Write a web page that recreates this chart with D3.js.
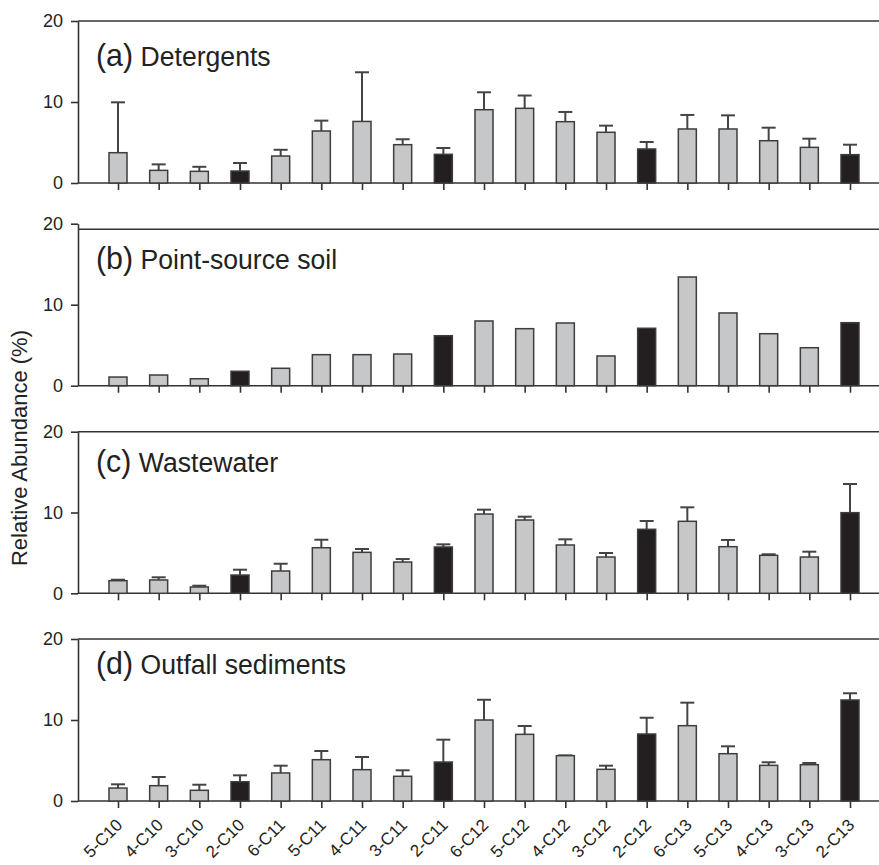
<!DOCTYPE html>
<html>
<head>
<meta charset="utf-8">
<script src="https://cdn.jsdelivr.net/npm/d3@7"></script>
<style>
  body { margin: 0; background: #fff; }
  svg { display: block; font-family: "Liberation Sans", Arial, Helvetica, sans-serif; }
  .axis path, .axis line { stroke: #333; stroke-width: 1.6px; }
</style>
</head>
<body>
<svg id="chart" width="879" height="865"></svg>
<script>
// categories along x
var categories = ["5-C10", "4-C10", "3-C10", "2-C10", "6-C11", "5-C11", "4-C11", "3-C11", "2-C11",
  "6-C12", "5-C12", "4-C12", "3-C12", "2-C12", "6-C13", "5-C13", "4-C13", "3-C13", "2-C13"];
var darkCategories = ["2-C10", "2-C11", "2-C12", "2-C13"];
var yTicks = [0, 10, 20];

// (a) Detergents
var detergents    = [3.74, 1.56, 1.44, 1.48, 3.33, 6.42, 7.60, 4.73, 3.54, 9.05, 9.22, 7.57, 6.26, 4.20, 6.67, 6.67, 5.22, 4.40, 3.50];
var detergentsErr = [6.22, 0.74, 0.56, 0.99, 0.77, 1.28, 6.07, 0.67, 0.78, 2.15, 1.58, 1.20, 0.82, 0.86, 1.73, 1.68, 1.61, 1.07, 1.23];
// (b) Point-source soil (no error bars)
var pointSoil     = [1.07, 1.32, 0.86, 1.78, 2.15, 3.83, 3.83, 3.91, 6.17, 7.99, 7.04, 7.74, 3.67, 7.09, 13.42, 8.98, 6.42, 4.69, 7.78];
// (c) Wastewater
var wastewater    = [1.56, 1.65, 0.78, 2.26, 2.76, 5.64, 5.07, 3.87, 5.73, 9.81, 9.07, 5.98, 4.49, 7.92, 8.91, 5.77, 4.70, 4.49, 9.98];
var wastewaterErr = [0.12, 0.33, 0.16, 0.66, 0.90, 0.99, 0.41, 0.37, 0.33, 0.54, 0.41, 0.70, 0.50, 1.03, 1.73, 0.83, 0.13, 0.66, 3.55];
// (d) Outfall sediments
var outfall       = [1.60, 1.89, 1.32, 2.38, 3.46, 5.10, 3.87, 3.05, 4.81, 10.00, 8.23, 5.60, 3.91, 8.27, 9.30, 5.84, 4.40, 4.48, 12.47];
var outfallErr    = [0.46, 1.07, 0.69, 0.79, 0.90, 1.07, 1.56, 0.74, 2.76, 2.50, 1.03, 0.03, 0.45, 2.01, 2.84, 0.91, 0.38, 0.21, 0.83];

// panel layout (pixels)
var panels = [
  { tag: "(a)", name: " Detergents",        values: detergents, err: detergentsErr, top: 21,    zero: 183,   frame: 21,    labelY: 66 },
  { tag: "(b)", name: " Point-source soil", values: pointSoil,  err: null,          top: 223.7, zero: 385.7, frame: 229.3, labelY: 269 },
  { tag: "(c)", name: " Wastewater",        values: wastewater, err: wastewaterErr, top: 431.7, zero: 593.3, frame: 431.7, labelY: 472 },
  { tag: "(d)", name: " Outfall sediments", values: outfall,    err: outfallErr,    top: 639,   zero: 801,   frame: 639,   labelY: 674 }
];

var axisX = 78, rightEdge = 879, barW = 18, capW = 14;
var svg = d3.select("#chart");

var x = d3.scalePoint()
  .domain(categories)
  .range([118, 850]);

function styleAxisText(sel, size) {
  sel.attr("font-size", null).attr("font-family", null);
  sel.selectAll("text")
    .style("font-size", size)
    .attr("fill", "#222");
}

panels.forEach(function (p, pi) {
  var y = d3.scaleLinear().domain([0, 20]).range([p.zero, p.top]);
  var g = svg.append("g");

  // y axis
  g.append("g")
    .attr("class", "axis")
    .attr("transform", "translate(" + axisX + ",0)")
    .call(d3.axisLeft(y).tickValues(yTicks).tickSize(7).tickSizeOuter(0).tickPadding(8))
    .call(styleAxisText, "18px");

  // frame top line
  g.append("line")
    .attr("x1", axisX).attr("x2", rightEdge)
    .attr("y1", p.frame).attr("y2", p.frame)
    .attr("stroke", "#333").attr("stroke-width", 1.6);

  // x axis ticks
  var xa = g.append("g")
    .attr("class", "axis")
    .attr("transform", "translate(0," + p.zero + ")")
    .call(d3.axisBottom(x).tickSize(7).tickSizeOuter(0))
    .call(styleAxisText, "17px");
  xa.select(".domain").remove();
  if (pi < panels.length - 1) {
    xa.selectAll("text").remove();
  } else {
    xa.selectAll("text")
      .attr("text-anchor", "end")
      .attr("dy", null)
      .attr("y", 0)
      .attr("transform", "translate(5,25) rotate(-45)");
  }
  // baseline
  g.append("line")
    .attr("x1", axisX).attr("x2", rightEdge)
    .attr("y1", p.zero).attr("y2", p.zero)
    .attr("stroke", "#333").attr("stroke-width", 1.6);

  // error bars
  if (p.err) {
    var eb = g.selectAll("g.err")
      .data(categories)
      .enter().append("g")
      .attr("class", "err");
    eb.append("line")
      .attr("x1", function (d) { return x(d); })
      .attr("x2", function (d) { return x(d); })
      .attr("y1", function (d, i) { return y(p.values[i]); })
      .attr("y2", function (d, i) { return y(p.values[i] + p.err[i]); })
      .attr("stroke", "#444").attr("stroke-width", 2);
    eb.append("line")
      .attr("x1", function (d) { return x(d) - capW / 2; })
      .attr("x2", function (d) { return x(d) + capW / 2; })
      .attr("y1", function (d, i) { return y(p.values[i] + p.err[i]); })
      .attr("y2", function (d, i) { return y(p.values[i] + p.err[i]); })
      .attr("stroke", "#444").attr("stroke-width", 2);
  }

  // bars
  g.selectAll("rect.bar")
    .data(categories)
    .enter().append("rect")
    .attr("class", "bar")
    .attr("x", function (d) { return x(d) - barW / 2; })
    .attr("width", barW)
    .attr("y", function (d, i) { return y(p.values[i]); })
    .attr("height", function (d, i) { return y(0) - y(p.values[i]); })
    .attr("fill", function (d) { return darkCategories.indexOf(d) >= 0 ? "#231f20" : "#c6c7c8"; })
    .attr("stroke", "#3d3d3d")
    .attr("stroke-width", 1.5);

  // panel label
  var t = g.append("text")
    .attr("transform", "translate(96," + p.labelY + ") scale(0.95,1)")
    .attr("fill", "#222");
  t.append("tspan").attr("font-size", "32px").text(p.tag);
  t.append("tspan").attr("font-size", "28px").text(p.name);
});

// y axis title
svg.append("text")
  .attr("transform", "translate(27,448) rotate(-90)")
  .attr("text-anchor", "middle")
  .attr("font-size", "22px")
  .attr("fill", "#222")
  .text("Relative Abundance (%)");
</script>
</body>
</html>
